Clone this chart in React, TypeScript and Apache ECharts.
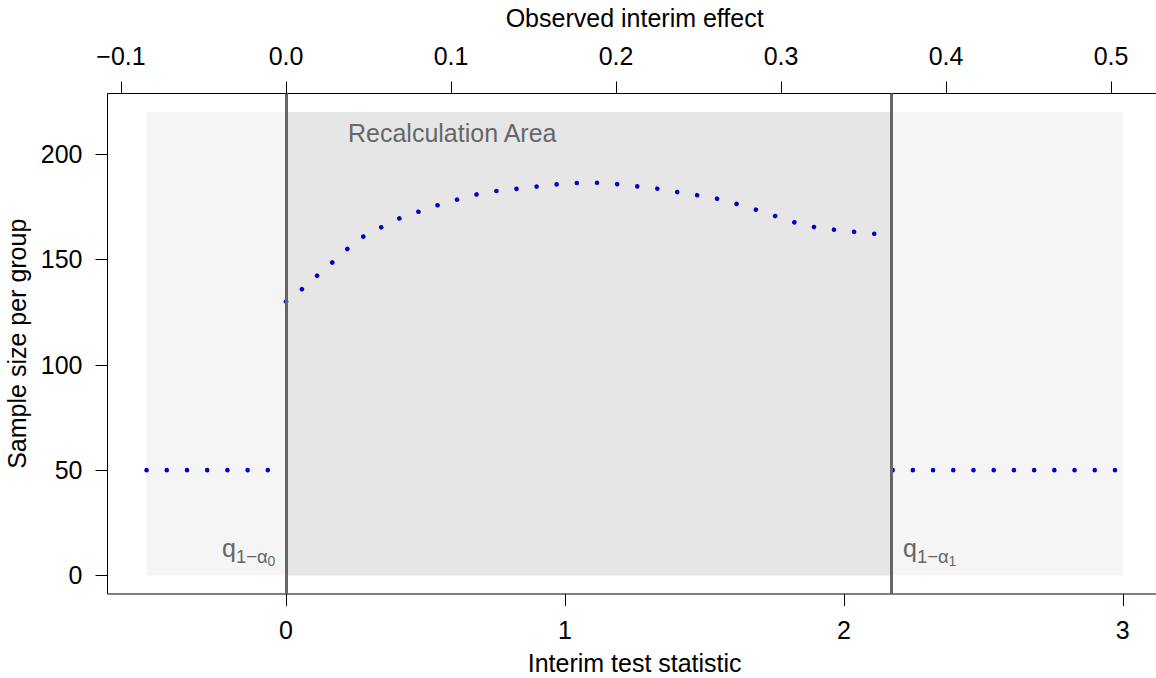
import React, { useEffect, useRef } from "react";
import * as echarts from "echarts";

// ---- data ----
const zLeft = [-0.5, 0];
const nLeft = [50, 50];
const zCurve = [0, 0.057, 0.111, 0.165, 0.219, 0.276, 0.337, 0.4, 0.465, 0.529, 0.595, 0.662, 0.73, 0.799, 0.87, 0.939, 1.01, 1.082, 1.154, 1.224, 1.295, 1.364, 1.432, 1.501, 1.569, 1.635, 1.701, 1.766, 1.831, 1.899, 1.968, 2.039, 2.108, 2.175];
const nCurve = [130.0, 135.9, 142.2, 148.5, 154.9, 160.8, 165.0, 169.2, 172.2, 175.2, 177.7, 180.3, 182.2, 183.1, 184.2, 185.2, 186.2, 186.5, 186.3, 185.2, 184.2, 183.1, 181.2, 180.1, 178.2, 175.6, 173.0, 170.1, 167.3, 165.2, 164.1, 163.1, 162.2, 161.8];
const zRight = [2.175, 3];
const nRight = [50, 50];
const critLower = 0;
const critUpper = 2.175;
const areaX = [-0.5, 3];
const areaY = [0, 220];
const xTicks = [0, 1, 2, 3];
const effectTicks = [-0.1, 0, 0.1, 0.2, 0.3, 0.4, 0.5];
const yTicks = [0, 50, 100, 150, 200];
const effectFactor = Math.sqrt(35);
const xRange = [-0.64, 3.14];
const yRange = [-8.8, 228.8];

const FONT = "'Liberation Sans', Arial, Helvetica, sans-serif";
const FS = 25;
const DOT = "#0000CD";
const GREY_TXT = "#666666";

function pairs(xs: number[], ys: number[]) {
  return xs.map((x, i) => [x, ys[i]]);
}

export default function App() {
  const ref = useRef<HTMLDivElement>(null);
  useEffect(() => {
    if (!ref.current) return;
    const chart = echarts.init(ref.current, null, { renderer: "svg" });
    const dotLine = {
      color: DOT,
      width: 4.6,
      type: [0.01, 20.2],
      cap: "round",
    };
    const sub = (x: number, y: number, t: string, fs: number) => ({
      type: "text",
      x,
      y,
      z: 100,
      silent: true,
      style: { text: t, fontSize: fs, fontFamily: FONT, fill: GREY_TXT, align: "left", verticalAlign: "middle" },
    });
    chart.setOption({
      animation: false,
      textStyle: { fontFamily: FONT },
      grid: {
        left: 107.5,
        top: 93.5,
        width: 1054.3,
        height: 500.5,
        show: true,
        borderColor: "#000",
        borderWidth: 1,
        backgroundColor: "transparent",
        containLabel: false,
        outerBoundsMode: "none",
      },
      xAxis: [
        {
          type: "value",
          position: "bottom",
          min: xRange[0],
          max: xRange[1],
          name: "Interim test statistic",
          nameLocation: "middle",
          nameGap: 56,
          nameTextStyle: { fontSize: FS, color: "#000", fontFamily: FONT },
          axisLine: { show: false, onZero: false },
          axisTick: { show: true, length: 12, customValues: xTicks, lineStyle: { color: "#000", width: 1 } },
          axisLabel: { customValues: xTicks, margin: 23, fontSize: FS, color: "#000", fontFamily: FONT },
          splitLine: { show: false },
        },
        {
          type: "value",
          position: "top",
          min: xRange[0] / effectFactor,
          max: xRange[1] / effectFactor,
          name: "Observed interim effect",
          nameLocation: "middle",
          nameGap: 63,
          nameTextStyle: { fontSize: FS, color: "#000", fontFamily: FONT },
          axisLine: { show: false, onZero: false },
          axisTick: { show: true, length: 12, customValues: effectTicks, lineStyle: { color: "#000", width: 1 } },
          axisLabel: {
            customValues: effectTicks,
            margin: 25,
            fontSize: FS,
            color: "#000",
            fontFamily: FONT,
            formatter: (v: number) => (v < -1e-9 ? "\u2212" : "") + Math.abs(v).toFixed(1),
          },
          splitLine: { show: false },
        },
      ],
      yAxis: {
        type: "value",
        position: "left",
        min: yRange[0],
        max: yRange[1],
        name: "Sample size per group",
        nameLocation: "middle",
        nameGap: 72,
        nameTextStyle: { fontSize: FS, color: "#000", fontFamily: FONT },
        axisLine: { show: false, onZero: false },
        axisTick: { show: true, length: 12, customValues: yTicks, lineStyle: { color: "#000", width: 1 } },
        axisLabel: { customValues: yTicks, margin: 25, fontSize: FS, color: "#000", fontFamily: FONT },
        splitLine: { show: false },
      },
      series: [
        {
          type: "line",
          xAxisIndex: 0,
          yAxisIndex: 0,
          z: 1,
          data: [],
          silent: true,
          markArea: {
            silent: true,
            data: [
              [
                { xAxis: areaX[0], yAxis: areaY[0], itemStyle: { color: "#F5F5F5" } },
                { xAxis: areaX[1], yAxis: areaY[1] },
              ],
              [
                { xAxis: critLower, yAxis: areaY[0], itemStyle: { color: "#E6E6E6" } },
                { xAxis: critUpper, yAxis: areaY[1] },
              ],
            ],
          },
        },
        {
          type: "line",
          z: 2,
          data: pairs(zLeft, nLeft),
          showSymbol: false,
          silent: true,
          lineStyle: dotLine,
        },
        {
          type: "line",
          z: 2,
          data: pairs(zCurve, nCurve),
          showSymbol: false,
          silent: true,
          lineStyle: dotLine,
        },
        {
          type: "line",
          z: 2,
          data: pairs(zRight, nRight),
          showSymbol: false,
          silent: true,
          lineStyle: dotLine,
        },
        {
          type: "line",
          z: 3,
          data: [],
          silent: true,
          markLine: {
            silent: true,
            symbol: ["none", "none"],
            label: { show: false },
            lineStyle: { color: "#666666", width: 3, type: "solid" },
            data: [{ xAxis: critLower }, { xAxis: critUpper }],
          },
        },
      ],
      graphic: [
        {
          type: "text",
          x: 348,
          y: 133,
          z: 100,
          silent: true,
          style: { text: "Recalculation Area", fontSize: FS, fontFamily: FONT, fill: GREY_TXT, align: "left", verticalAlign: "middle" },
        },
        sub(222, 547.5, "q", 25),
        sub(236, 556.5, "1\u2212\u03b1", 18.5),
        sub(267.5, 560.5, "0", 14),
        sub(903, 547.5, "q", 25),
        sub(917, 556.5, "1\u2212\u03b1", 18.5),
        sub(948.5, 560.5, "1", 14),
      ],
    });
    return () => chart.dispose();
  }, []);
  return (
    <div
      ref={ref}
      style={{ position: "fixed", left: 0, top: 0, width: 1156, height: 678, background: "#fff" }}
    />
  );
}
